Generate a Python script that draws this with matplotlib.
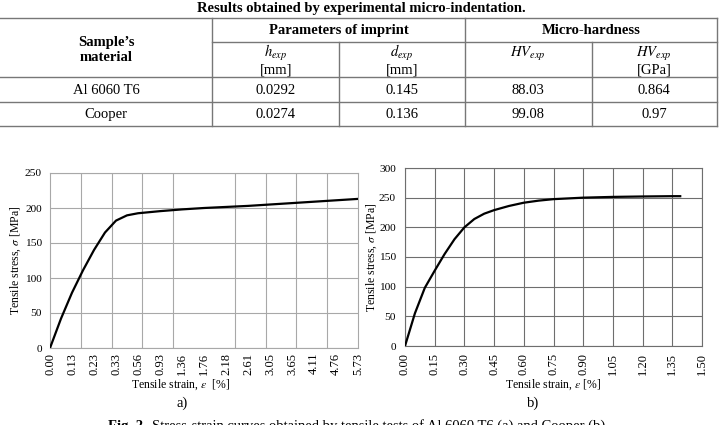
import numpy as np
import matplotlib
matplotlib.use('Agg')
import matplotlib.pyplot as plt

plt.rcParams['font.family'] = ['Liberation Serif', 'DejaVu Serif']
plt.rcParams['mathtext.fontset'] = 'stix'

# table data
table_title = 'Results obtained by experimental micro-indentation.'
materials = ['Al 6060 T6', 'Cooper']
h_exp = ['0.0292', '0.0274']
d_exp = ['0.145', '0.136']
hv_exp = ['88.03', '99.08']
hv_gpa = ['0.864', '0.97']

# chart a) Al 6060 T6, category axis (Excel style)
strain_labels_a = ['0.00', '0.13', '0.23', '0.33', '0.56', '0.93', '1.36', '1.76',
                   '2.18', '2.61', '3.05', '3.65', '4.11', '4.76', '5.73']
pos_a = [0, 0.5, 1, 1.5, 2, 2.5, 3, 3.5, 4, 5, 6, 7, 8, 9, 10, 11, 12, 13, 14]
stress_a = [0, 42, 79, 111, 140, 165, 182, 189.5, 192.5, 195.5, 198, 200, 201.5,
            203, 205, 207, 209, 211, 213]

# chart b) Cooper
strain_b = [0, 0.05, 0.10, 0.15, 0.20, 0.25, 0.30, 0.35, 0.40, 0.45, 0.525, 0.60,
            0.675, 0.75, 0.90, 1.05, 1.20, 1.35, 1.39]
stress_b = [0, 55, 98, 127, 155, 180, 200, 214, 223, 229, 236, 241.5,
            245, 247.5, 250, 251.3, 252, 252.5, 252.5]

W, H = 721, 425
fig = plt.figure(figsize=(W / 100, H / 100), dpi=100)

# overlay in pixel coordinates for the table and captions
ov = fig.add_axes([0, 0, 1, 1])
ov.set_xlim(0, W)
ov.set_ylim(H, 0)
ov.axis('off')

lc = '#777777'
lw = 1.0
for y, x0 in [(18, 0), (42, 212), (77, 0), (102, 0), (126, 0)]:
    ov.plot([x0, 717], [y, y], color=lc, lw=lw)
for x, y0 in [(212, 18), (339, 42), (465, 18), (592, 42), (717, 18)]:
    ov.plot([x, x], [y0, 126], color=lc, lw=lw)

fs = 10.5
ov.text(361, 8, table_title, ha='center', va='center', fontsize=fs, fontweight='bold')
ov.text(106, 50, 'Sample\u2019s\nmaterial', ha='center', va='center', fontsize=fs,
        fontweight='bold', linespacing=1.15)
ov.text(339, 30, 'Parameters of imprint', ha='center', va='center', fontsize=fs, fontweight='bold')
ov.text(591, 30, 'Micro-hardness', ha='center', va='center', fontsize=fs, fontweight='bold')

col_x = [276, 402, 528, 654]
sub_heads = [r'$h_{exp}$', r'$d_{exp}$', r'$HV_{exp}$', r'$HV_{exp}$']
units = ['[mm]', '[mm]', '', '[GPa]']
for cx, head, unit in zip(col_x, sub_heads, units):
    ov.text(cx, 57, head, ha='center', va='baseline', fontsize=fs)
    if unit:
        ov.text(cx, 73, unit, ha='center', va='baseline', fontsize=fs)

for i, row_y in enumerate([90, 114]):
    ov.text(106, row_y, materials[i], ha='center', va='center', fontsize=fs)
    for cx, vals in zip(col_x, [h_exp, d_exp, hv_exp, hv_gpa]):
        ov.text(cx, row_y, vals[i], ha='center', va='center', fontsize=fs)

ov.text(182, 403, 'a)', ha='center', va='center', fontsize=10.5)
ov.text(533, 403, 'b)', ha='center', va='center', fontsize=10.5)
# caption is cut by the bottom edge in the reference
ov.text(108, 430, 'Fig. 2.', ha='left', va='baseline', fontsize=fs, fontweight='bold')
ov.text(152, 430, 'Stress-strain curves obtained by tensile tests of Al 6060 T6 (a) and Cooper (b).',
        ha='left', va='baseline', fontsize=fs)

xfs = 9
yfs = 8.2
lfs = 8.5


def px_axes(x0, x1, y0, y1):
    return fig.add_axes([x0 / W, (H - y1) / H, (x1 - x0) / W, (y1 - y0) / H])


# chart a)
ax1 = px_axes(50, 358, 173, 348)
grid_a = '#a8a8a8'
ax1.plot(pos_a, stress_a, color='black', lw=1.6, zorder=3)
ax1.set_xlim(0, len(strain_labels_a) - 1)
ax1.set_ylim(0, 250)
ax1.set_xticks(range(len(strain_labels_a)))
ax1.set_xticklabels(strain_labels_a, rotation=90)
ax1.set_xticks(np.linspace(0, len(strain_labels_a) - 1, 11), minor=True)
ax1.set_yticks(range(0, 251, 50))
ax1.grid(which='minor', axis='x', color=grid_a, lw=0.8)
ax1.grid(which='major', axis='y', color=grid_a, lw=0.8)
ax1.tick_params(which='both', length=0)
ax1.tick_params(axis='y', pad=6, labelsize=yfs)
ax1.tick_params(axis='x', pad=3.5, labelsize=xfs)
for s in ax1.spines.values():
    s.set_color(grid_a)
    s.set_linewidth(0.8)
ax1.set_xlabel(r'Tensile strain, $\varepsilon$  [%]', fontsize=lfs, labelpad=2)
ax1.xaxis.label.set_x(0.425)
ax1.set_ylabel(r'Tensile stress, $\sigma$ [MPa]', fontsize=lfs, labelpad=1)

# chart b)
ax2 = px_axes(405, 702, 168, 346)
grid_b = '#6e6e6e'
ax2.plot(strain_b, stress_b, color='black', lw=1.6, zorder=3)
ax2.set_xlim(0, 1.5)
ax2.set_ylim(0, 300)
xt = np.arange(11) * 0.15
ax2.set_xticks(xt)
ax2.set_xticklabels(['%.2f' % v for v in xt], rotation=90)
ax2.set_yticks(range(0, 301, 50))
ax2.grid(True, color=grid_b, lw=0.8)
ax2.tick_params(length=0)
ax2.tick_params(axis='y', pad=6.5, labelsize=yfs)
ax2.tick_params(axis='x', pad=5, labelsize=xfs)
for s in ax2.spines.values():
    s.set_color(grid_b)
    s.set_linewidth(0.8)
ax2.set_xlabel(r'Tensile strain, $\varepsilon$ [%]', fontsize=lfs, labelpad=1.5)
ax2.set_ylabel(r'Tensile stress, $\sigma$ [MPa]', fontsize=lfs, labelpad=0)

fig.savefig('out.png', dpi=100)
